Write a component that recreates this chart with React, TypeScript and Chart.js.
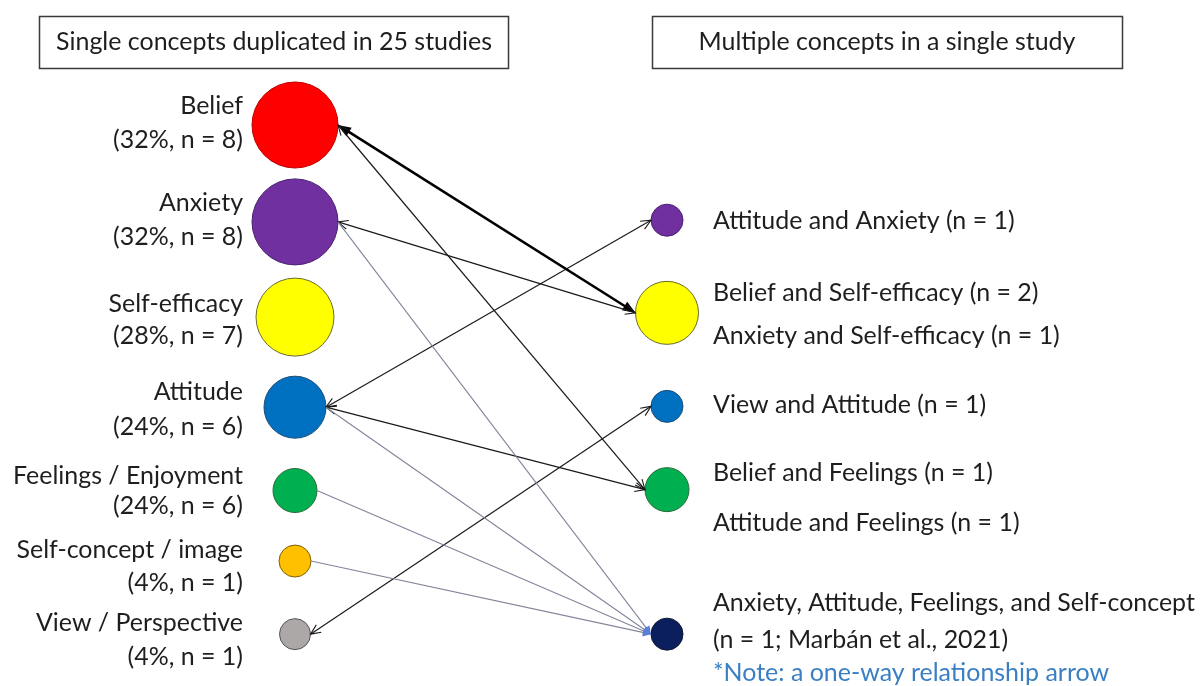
import React, { useEffect, useRef } from "react";
import { Chart, registerables } from "chart.js";

Chart.register(...registerables);

// ---------------- DATA ----------------
const totalStudies = 25;
const leftTitle = `Single concepts duplicated in ${totalStudies} studies`;
const rightTitle = "Multiple concepts in a single study";

const singleConcepts = [
  "Belief",
  "Anxiety",
  "Self-efficacy",
  "Attitude",
  "Feelings / Enjoyment",
  "Self-concept / image",
  "View / Perspective",
];
const singlePercent = [32, 32, 28, 24, 24, 4, 4];
const singleCount = [8, 8, 7, 6, 6, 1, 1];

const combinations = [
  "Attitude and Anxiety",
  "Belief and Self-efficacy",
  "Anxiety and Self-efficacy",
  "View and Attitude",
  "Belief and Feelings",
  "Attitude and Feelings",
  "Anxiety, Attitude, Feelings, and Self-concept",
];
const combinationCounts = [1, 2, 1, 1, 1, 1, 1];
// which right-hand node each combination belongs to
const combinationNode = [0, 1, 1, 2, 3, 3, 4];
// which single concepts are linked to that node (index into singleConcepts)
const combinationSources = [[3], [0], [1], [6], [0], [3], [1, 3, 4, 5]];
const combinationOneWay = [false, false, false, false, false, false, true];
const citation = "Marbán et al., 2021";
const noteText = "*Note: a one-way relationship arrow";

// ---------------- LAYOUT / STYLE ----------------
const W = 1200;
const H = 686;
// x scale: column units (0 = single concepts, 1 = combinations)
const COL0_PX = 295;
const COL1_PX = 667;
// y scale: row units
const ROW0_PX = 125;
const ROW_PX = 85;
const singleRows = [0, 1.14, 2.26, 3.32, 4.3, 5.13, 5.99];
const nodeRows = [1.12, 2.21, 3.31, 4.29, 5.99];

const singleRadius = [43, 43, 39, 31, 22, 16, 15.5];
const nodeRadius = [16, 31.5, 16, 22, 16];
const singleColors = ["#ff0000", "#7030a0", "#ffff00", "#0070c0", "#00b050", "#ffc000", "#ada8a8"];
const nodeColors = ["#7030a0", "#ffff00", "#0070c0", "#00b050", "#0b1f5e"];
const singleBorders = ["#c00000", "#4a2070", "#6b6b30", "#1f4e79", "#2a6a3a", "#7f6000", "#555555"];
const nodeBorders = ["#4a2070", "#6b6b30", "#1f4e79", "#2a6a3a", "#111a33"];

// text line offsets relative to node centre (px)
const singleLineOffsets = [
  [-19, 15],
  [-19, 15],
  [-13, 19],
  [-15, 20],
  [-15, 15],
  [-11, 22],
  [-11, 23],
];
const nodeLineOffsets = [[1], [-20, 23], [-1], [-17, 33], [-31, 6, 39]];

const TEXT_COLOR = "#1e1e1e";
const NOTE_COLOR = "#3a7fc4";
const FONT_FAMILY = "Lato, 'Open Sans', sans-serif";

function arrowHead(
  ctx: CanvasRenderingContext2D,
  tx: number,
  ty: number,
  fx: number,
  fy: number,
  filled: boolean,
  len: number,
  halfW: number,
  color: string
) {
  const a = Math.atan2(ty - fy, tx - fx);
  const bx = tx - len * Math.cos(a);
  const by = ty - len * Math.sin(a);
  const px = -Math.sin(a) * halfW;
  const py = Math.cos(a) * halfW;
  ctx.beginPath();
  if (filled) {
    ctx.moveTo(tx, ty);
    ctx.lineTo(bx + px, by + py);
    ctx.lineTo(bx - px, by - py);
    ctx.closePath();
    ctx.fillStyle = color;
    ctx.fill();
  } else {
    ctx.moveTo(bx + px, by + py);
    ctx.lineTo(tx, ty);
    ctx.lineTo(bx - px, by - py);
    ctx.strokeStyle = color;
    ctx.stroke();
  }
}

const diagramPlugin = {
  id: "diagram",
  beforeDraw(chart: any) {
    const ctx = chart.ctx as CanvasRenderingContext2D;
    ctx.save();
    ctx.fillStyle = "#ffffff";
    ctx.fillRect(0, 0, chart.width, chart.height);
    ctx.restore();
  },
  afterDatasetsDraw(chart: any) {
    const ctx = chart.ctx as CanvasRenderingContext2D;
    const left = chart.getDatasetMeta(0).data;
    const right = chart.getDatasetMeta(1).data;

    // font size chosen so that the longest label spans like the reference
    ctx.save();
    ctx.font = `100px ${FONT_FAMILY}`;
    const wRef = ctx.measureText(combinations[6]).width;
    const fs = (100 * 482) / wRef;
    ctx.restore();
    const font = `${fs.toFixed(2)}px ${FONT_FAMILY}`;

    // links
    ctx.save();
    ctx.lineCap = "butt";
    combinations.forEach((_, ci) => {
      const node = right[combinationNode[ci]];
      const nr = nodeRadius[combinationNode[ci]];
      const ex = node.x - nr;
      const ey = node.y;
      combinationSources[ci].forEach((si) => {
        const s = left[si];
        const sx = s.x + singleRadius[si];
        const sy = s.y;
        const a = Math.atan2(ey - sy, ex - sx);
        if (combinationOneWay[ci]) {
          ctx.strokeStyle = "#82859a";
          ctx.lineWidth = 1.1;
          ctx.beginPath();
          ctx.moveTo(sx, sy);
          ctx.lineTo(ex - 6 * Math.cos(a), ey - 6 * Math.sin(a));
          ctx.stroke();
          arrowHead(ctx, ex, ey, sx, sy, true, 8, 4, "#5b7fd6");
        } else if (combinationCounts[ci] >= 2) {
          ctx.strokeStyle = "#000000";
          ctx.lineWidth = 2.6;
          ctx.beginPath();
          ctx.moveTo(sx + 10 * Math.cos(a), sy + 10 * Math.sin(a));
          ctx.lineTo(ex - 10 * Math.cos(a), ey - 10 * Math.sin(a));
          ctx.stroke();
          arrowHead(ctx, ex, ey, sx, sy, true, 13, 5, "#000000");
          arrowHead(ctx, sx, sy, ex, ey, true, 13, 5, "#000000");
        } else {
          ctx.strokeStyle = "#1a1a1a";
          ctx.lineWidth = 1.2;
          ctx.beginPath();
          ctx.moveTo(sx, sy);
          ctx.lineTo(ex, ey);
          ctx.stroke();
          ctx.lineWidth = 1.1;
          arrowHead(ctx, ex, ey, sx, sy, false, 10, 4.5, "#1a1a1a");
          arrowHead(ctx, sx, sy, ex, ey, false, 10, 4.5, "#1a1a1a");
        }
      });
    });
    ctx.restore();

    // titles
    ctx.save();
    ctx.strokeStyle = "#3a3a3a";
    ctx.lineWidth = 1.5;
    ctx.strokeRect(39.5, 16.5, 469, 52);
    ctx.strokeRect(652.5, 16.5, 470, 52);
    ctx.font = font;
    ctx.fillStyle = TEXT_COLOR;
    ctx.textAlign = "center";
    ctx.textBaseline = "middle";
    ctx.fillText(leftTitle, 274, 42);
    ctx.fillText(rightTitle, 887, 42);

    // left labels
    ctx.textAlign = "right";
    singleConcepts.forEach((name, i) => {
      const p = left[i];
      const offs = singleLineOffsets[i];
      ctx.fillText(name, 243, p.y + offs[0]);
      ctx.fillText(`(${singlePercent[i]}%, n = ${singleCount[i]})`, 243, p.y + offs[1]);
    });

    // right labels
    ctx.textAlign = "left";
    nodeRows.forEach((_, ni) => {
      const p = right[ni];
      const lines: { t: string; c: string }[] = [];
      combinations.forEach((c, ci) => {
        if (combinationNode[ci] !== ni) return;
        if (combinationOneWay[ci]) {
          lines.push({ t: c, c: TEXT_COLOR });
          lines.push({ t: `(n = ${combinationCounts[ci]}; ${citation})`, c: TEXT_COLOR });
          lines.push({ t: noteText, c: NOTE_COLOR });
        } else {
          lines.push({ t: `${c} (n = ${combinationCounts[ci]})`, c: TEXT_COLOR });
        }
      });
      lines.forEach((ln, k) => {
        ctx.fillStyle = ln.c;
        ctx.fillText(ln.t, 713, p.y + nodeLineOffsets[ni][k]);
      });
    });
    ctx.restore();
  },
};

export default function App() {
  const ref = useRef<HTMLCanvasElement>(null);
  useEffect(() => {
    document.body.style.margin = "0";
    const canvas = ref.current!;
    const pxPerCol = COL1_PX - COL0_PX;
    const chart = new Chart(canvas, {
      type: "scatter",
      data: {
        datasets: [
          {
            label: "Single concepts",
            data: singleConcepts.map((_, i) => ({ x: 0, y: singleRows[i] })),
            pointRadius: singleRadius,
            pointBackgroundColor: singleColors,
            pointBorderColor: singleBorders,
            pointBorderWidth: 1,
            clip: false,
          },
          {
            label: "Multiple concepts",
            data: nodeRows.map((r) => ({ x: 1, y: r })),
            pointRadius: nodeRadius,
            pointBackgroundColor: nodeColors,
            pointBorderColor: nodeBorders,
            pointBorderWidth: 1,
            clip: false,
          },
        ],
      },
      options: {
        animation: false,
        responsive: false,
        maintainAspectRatio: false,
        devicePixelRatio: 1,
        events: [],
        layout: { padding: 0, autoPadding: false },
        plugins: { legend: { display: false }, tooltip: { enabled: false } },
        scales: {
          x: {
            type: "linear",
            display: false,
            min: -COL0_PX / pxPerCol,
            max: (W - COL0_PX) / pxPerCol,
          },
          y: {
            type: "linear",
            display: false,
            reverse: true,
            min: -ROW0_PX / ROW_PX,
            max: (H - ROW0_PX) / ROW_PX,
          },
        },
      } as any,
      plugins: [diagramPlugin],
    });
    return () => chart.destroy();
  }, []);
  return <canvas ref={ref} width={W} height={H} style={{ display: "block" }} />;
}
